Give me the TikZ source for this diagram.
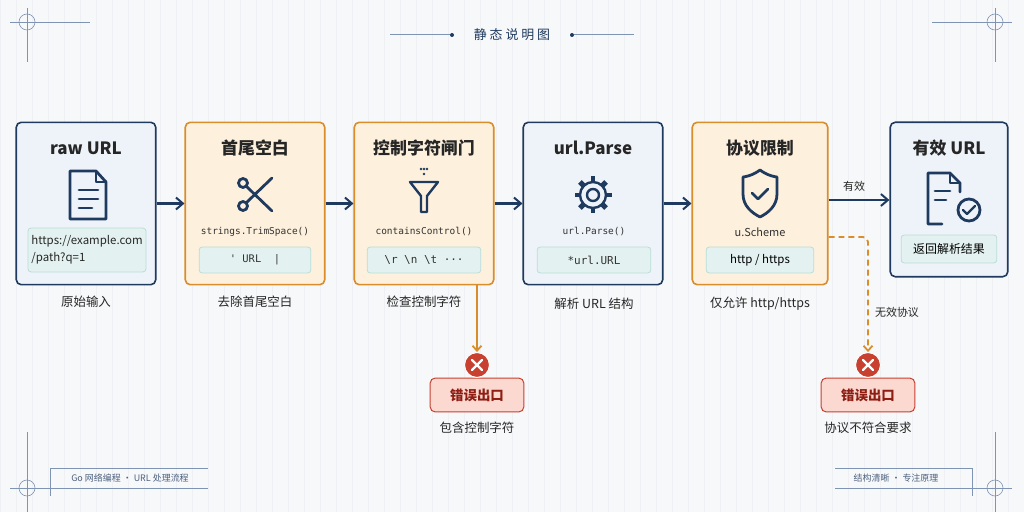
\documentclass[tikz,border=0pt]{standalone}
\usepackage{fontspec}
\setmainfont{Noto Sans CJK SC}
\newfontfamily\codef{DejaVu Sans Mono}
\usetikzlibrary{arrows.meta}
\definecolor{navy}{HTML}{1F3A5F}
\definecolor{bfill}{HTML}{EEF3F9}
\definecolor{ofill}{HTML}{FDF0DC}
\definecolor{ostroke}{HTML}{D98E2B}
\definecolor{tfill}{HTML}{E3F2F0}
\definecolor{tstroke}{HTML}{B9DDD8}
\definecolor{red1}{HTML}{C8402F}
\definecolor{rfill}{HTML}{FBD9D0}
\definecolor{rtext}{HTML}{8E1E14}
\definecolor{bg}{HTML}{F7F8FA}
\definecolor{grid}{HTML}{EEF0F3}
\definecolor{deco}{HTML}{7F93B3}
\tikzset{
 bbox/.style={draw=navy,fill=bfill,line width=1.6pt,rounded corners=5pt},
 obox/.style={draw=ostroke,fill=ofill,line width=1.6pt,rounded corners=5pt},
 ibox/.style={draw=tstroke,fill=tfill,line width=0.8pt,rounded corners=3pt},
 title/.style={font=\bfseries\fontsize{17}{19}\selectfont,text=black!85},
 code/.style={font=\codef\fontsize{9.5}{11}\selectfont,text=black!80},
 capt/.style={font=\fontsize{12.5}{14}\selectfont,text=black!85},
 flow/.style={-{Straight Barb[length=7pt,width=12pt,line width=2pt]},draw=navy,line width=2.2pt},
 errf/.style={-{Straight Barb[length=5pt,width=9pt]},draw=ostroke,line width=1.8pt},
 icon/.style={draw=navy,line width=2.8pt,line cap=round,line join=round},
 rbox/.style={draw=red1,fill=rfill,line width=1pt,rounded corners=5pt,minimum width=94pt,minimum height=34pt,font=\bfseries\fontsize{13.5}{15}\selectfont,text=rtext},
 xc/.style={circle,fill=red1,draw=white,line width=1pt,minimum size=25pt,inner sep=0pt},
 deco/.style={draw=deco,line width=0.6pt},
 foot/.style={font=\fontsize{9}{11}\selectfont,text=navy!80},
}
\begin{document}
\begin{tikzpicture}[x=1bp,y=-1bp]
\useasboundingbox (0,0) rectangle (1024,512);
\fill[bg] (0,0) rectangle (1024,512);
\draw[grid,line width=0.3pt] (0,0) grid[step=16] (1024,512);
% title
\node[font=\fontsize{13}{15}\selectfont,text=navy] (ttl) at (512,35) {静\ 态\ 说\ 明\ 图};
\draw[deco,line width=1pt] (390,35) -- (450,35); \fill[navy] (452,35) circle (2);
\draw[deco,line width=1pt] (574,35) -- (634,35); \fill[navy] (572,35) circle (2);
% corners
\foreach \cx/\cy/\d in {27/22/1,995/22/-1,27/488/1,995/488/-1}{
 \draw[deco] (\cx-17*\d,\cy) -- (\cx+63*\d,\cy);
 \draw[deco] (\cx,\cy-14) -- (\cx,\cy+40);
 \draw[deco] (\cx,\cy) circle (8);
}
\foreach \cx/\cy in {27/488,995/488}{
 \draw[deco] (\cx,\cy-56) -- (\cx,\cy+14);
}
\draw[deco] (208,468) -- (50,468) -- (50,496);
\draw[deco] (50,488) -- (208,488);
\node[foot] (fl) at (130,478) {Go 网络编程 · URL 处理流程};
\draw[deco] (835,468) -- (972,468) -- (972,496);
\draw[deco] (835,488) -- (972,488);
\node[foot] (fr) at (896,478) {结构清晰 · 专注原理};
% boxes
\node[bbox,minimum width=140pt,minimum height=163pt] (b1) at (86,203.5) {};
\node[obox,minimum width=140pt,minimum height=163pt] (b2) at (255,203.5) {};
\node[obox,minimum width=140pt,minimum height=163pt] (b3) at (424,203.5) {};
\node[bbox,minimum width=140pt,minimum height=163pt] (b4) at (593,203.5) {};
\node[obox,minimum width=136pt,minimum height=163pt] (b5) at (760,203.5) {};
\node[bbox,minimum width=118pt,minimum height=155pt] (b6) at (949,199.5) {};
% titles
\node[title] (t1) at (86,148) {raw URL};
\node[title] (t2) at (255,148) {首尾空白};
\node[title] (t3) at (424,148) {控制字符闸门};
\node[title] (t4) at (593,148) {url.Parse};
\node[title] (t5) at (760,148) {协议限制};
\node[title] (t6) at (949,148) {有效 URL};
% inner boxes
\node[ibox,minimum width=118pt,minimum height=44pt,align=left,font=\fontsize{11.5}{17}\selectfont,text=black!85] (i1) at (87,250) {https://example.com\\/path?q=1};
\node[ibox,minimum width=112pt,minimum height=26pt,code,font=\codef\fontsize{10.5}{12}\selectfont] (i2) at (255,260) {'\ URL\ \ |};
\node[ibox,minimum width=114pt,minimum height=26pt,code,font=\codef\fontsize{11}{12}\selectfont] (i3) at (424,260) {\textbackslash r \textbackslash n \textbackslash t ···};
\node[ibox,minimum width=114pt,minimum height=26pt,code,font=\codef\fontsize{11}{12}\selectfont] (i4) at (594,260) {*url.URL};
\node[ibox,minimum width=108pt,minimum height=26pt,font=\fontsize{11.5}{13}\selectfont] (i5) at (760,260) {http / https};
\node[ibox,minimum width=96pt,minimum height=28pt,font=\fontsize{12}{13}\selectfont] (i6) at (949,249) {返回解析结果};
% code labels
\node[code] (c2) at (255,232) {strings.TrimSpace()};
\node[code] (c3) at (424,232) {containsControl()};
\node[code] (c4) at (594,232) {url.Parse()};
\node[font=\fontsize{11}{12}\selectfont,text=black!80] (c5) at (760,232) {u.Scheme};
% captions
\node[capt] (l1) at (86,302) {原始输入};
\node[capt] (l2) at (255,302) {去除首尾空白};
\node[capt] (l3) at (424,302) {检查控制字符};
\node[capt] (l4) at (594,304) {解析 URL 结构};
\node[capt] (l5) at (760,304) {仅允许 http/https};
% icons
\draw[icon] (70,171) -- (96,171) -- (106,182) -- (106,219) -- (70,219) -- cycle;
\draw[icon,line width=2pt] (96,171) -- (96,182) -- (106,182);
\draw[icon] (79,190) -- (98,190) (79,199) -- (98,199) (79,208) -- (92,208);
% scissors
\draw[icon] (243,206) circle (4.5) (243,183) circle (4.5);
\draw[icon] (246,203) -- (272,178) (246,186) -- (272,211);
% funnel
\fill[navy] (421,169) circle (1.3) (424,169) circle (1.3) (427,169) circle (1.3) (424,174) circle (1.3);
\draw[icon,line width=2.4pt] (410,182) -- (438,182) -- (427,196) -- (427,212) -- (421,212) -- (421,196) -- cycle;
% gear
\begin{scope}[shift={(593,195)}]
\draw[icon,line width=2.4pt] (0,0) circle (6);
\draw[icon,line width=2.4pt] (0,0) circle (13);
\foreach \a in {0,45,...,315}
 \draw[navy,line width=5pt] (\a:12) -- (\a:18.5);
\end{scope}
% shield
\draw[icon] (760,170) .. controls (768,176) and (776,177) .. (777,177) -- (777,194) .. controls (777,206) and (768,213) .. (760,217) .. controls (752,213) and (743,206) .. (743,194) -- (743,177) .. controls (744,177) and (752,176) .. (760,170) -- cycle;
\draw[icon] (752,193) -- (758,199) -- (768,189);
% doc check
\draw[icon] (942,224) -- (928,224) -- (928,173) -- (950,173) -- (960,183) -- (960,192);
\draw[icon,line width=2pt] (950,173) -- (950,183) -- (960,183);
\draw[icon] (935,191) -- (950,191) (935,200) -- (946,200);
\draw[icon] (969,210) circle (11);
\draw[icon,line width=2.2pt] (963,210) -- (967,214) -- (975,206);
% flow arrows
\draw[flow] (b1.east) -- (b2.west);
\draw[flow] (b2.east) -- (b3.west);
\draw[flow] (b3.east) -- (b4.west);
\draw[flow] (b4.east) -- (b5.west);
\draw[flow] (b5.east |- 0,200) -- (b6.west |- 0,200);
\node[font=\fontsize{11}{12}\selectfont,text=black!85] (yx) at (854,186) {有效};
% errors
\node[rbox] (e1) at (477,395) {错误出口};
\node[xc] (x1) at (477,365) {};
\draw[white,line width=2.2pt,line cap=round] (472,360) -- (482,370) (482,360) -- (472,370);
\draw[errf] (b3.south -| x1) -- (x1.north);
\node[capt] (ec1) at (477,428) {包含控制字符};
\node[rbox] (e2) at (868,395) {错误出口};
\node[xc] (x2) at (868,365) {};
\draw[white,line width=2.2pt,line cap=round] (863,360) -- (873,370) (873,360) -- (863,370);
\draw[errf,dash pattern=on 6pt off 4pt,rounded corners=5pt] (b5.east |- 0,237) -- (868,237) -- (x2.north);
\node[font=\fontsize{11}{12}\selectfont,text=black!85] (wx) at (897,312) {无效协议};
\node[capt] (ec2) at (868,428) {协议不符合要求};
\end{tikzpicture}
\end{document}
